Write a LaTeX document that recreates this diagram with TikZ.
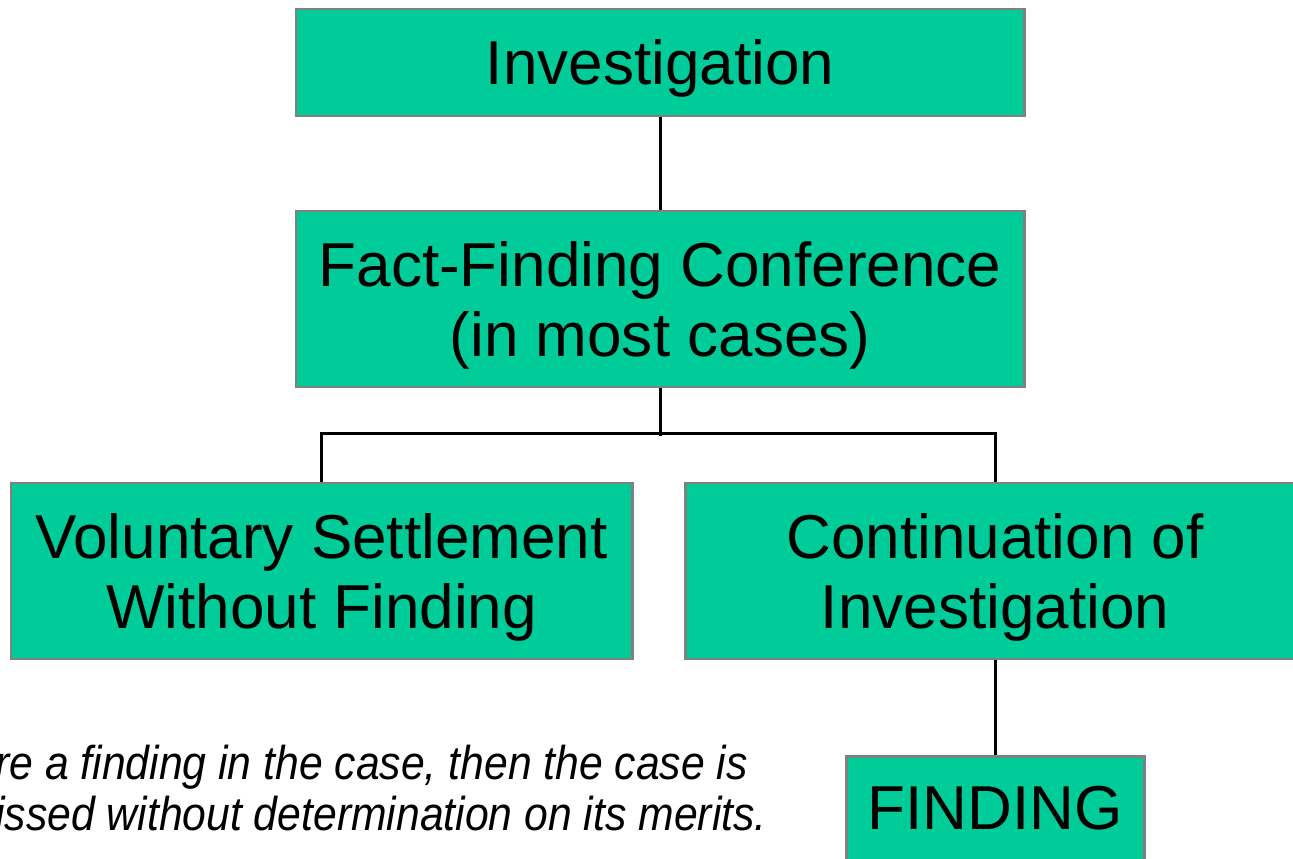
\documentclass[tikz,border=0pt]{standalone}
\usepackage{fontspec}
\setmainfont{Liberation Sans}
\newfontfamily\notefont[FakeStretch=0.9]{Liberation Sans}
\usetikzlibrary{positioning}
\definecolor{boxgreen}{HTML}{00CC99}
\definecolor{boxgray}{HTML}{808080}

\begin{document}
\begin{tikzpicture}[font=\fontsize{35.3}{40}\selectfont,
	block/.style = { rectangle, draw=boxgray, line width=1.7pt, fill=boxgreen,
	align=center, inner sep=0pt,
	execute at begin node={\rule{0pt}{#1}}},
	block/.default = 1.12cm,
	link/.style = { draw=black, line width=1.7pt } ]

  \useasboundingbox (0,0) rectangle (25.86,-17.18);
  \clip (0,0) rectangle (25.86,-17.18);

  \node [name=invest, block, minimum width=14.56cm, minimum height=2.14cm]
	at (13.2,-1.25) {Investigation};
  \node [name=fact, block=2.55cm, minimum width=14.56cm, minimum height=3.52cm]
	at (13.2,-5.98) {Fact-Finding Conference\\(in most cases)};
  \node [name=settle, block=2.55cm, minimum width=12.42cm, minimum height=3.52cm]
	at (6.43,-11.42) {Voluntary Settlement\\Without Finding};
  \node [name=contin, block=2.55cm, minimum width=12.4cm, minimum height=3.52cm]
	at (19.9,-11.42) {Continuation of\\Investigation};
  \node [name=finding, block, minimum width=5.96cm, anchor=north,
	text height=1.46cm, text depth=0.7cm]
	at (19.9,-15.1) {FINDING};
  \node [name=note, anchor=west, align=left, inner sep=0pt,
	font=\notefont\itshape\fontsize{27}{29}\selectfont]
	at (-0.1,-15.76) {re a finding in the case, then the case is\\
	issed without determination on its merits.};

  \draw [link] (invest) -- (fact);
  \draw [link] (fact.south) -- ++(0,-0.96);
  \draw [link] (settle.north) -- ++(0,0.96) -| (contin.north);
  \draw [link] (contin) -- (finding);
\end{tikzpicture}
\end{document}
